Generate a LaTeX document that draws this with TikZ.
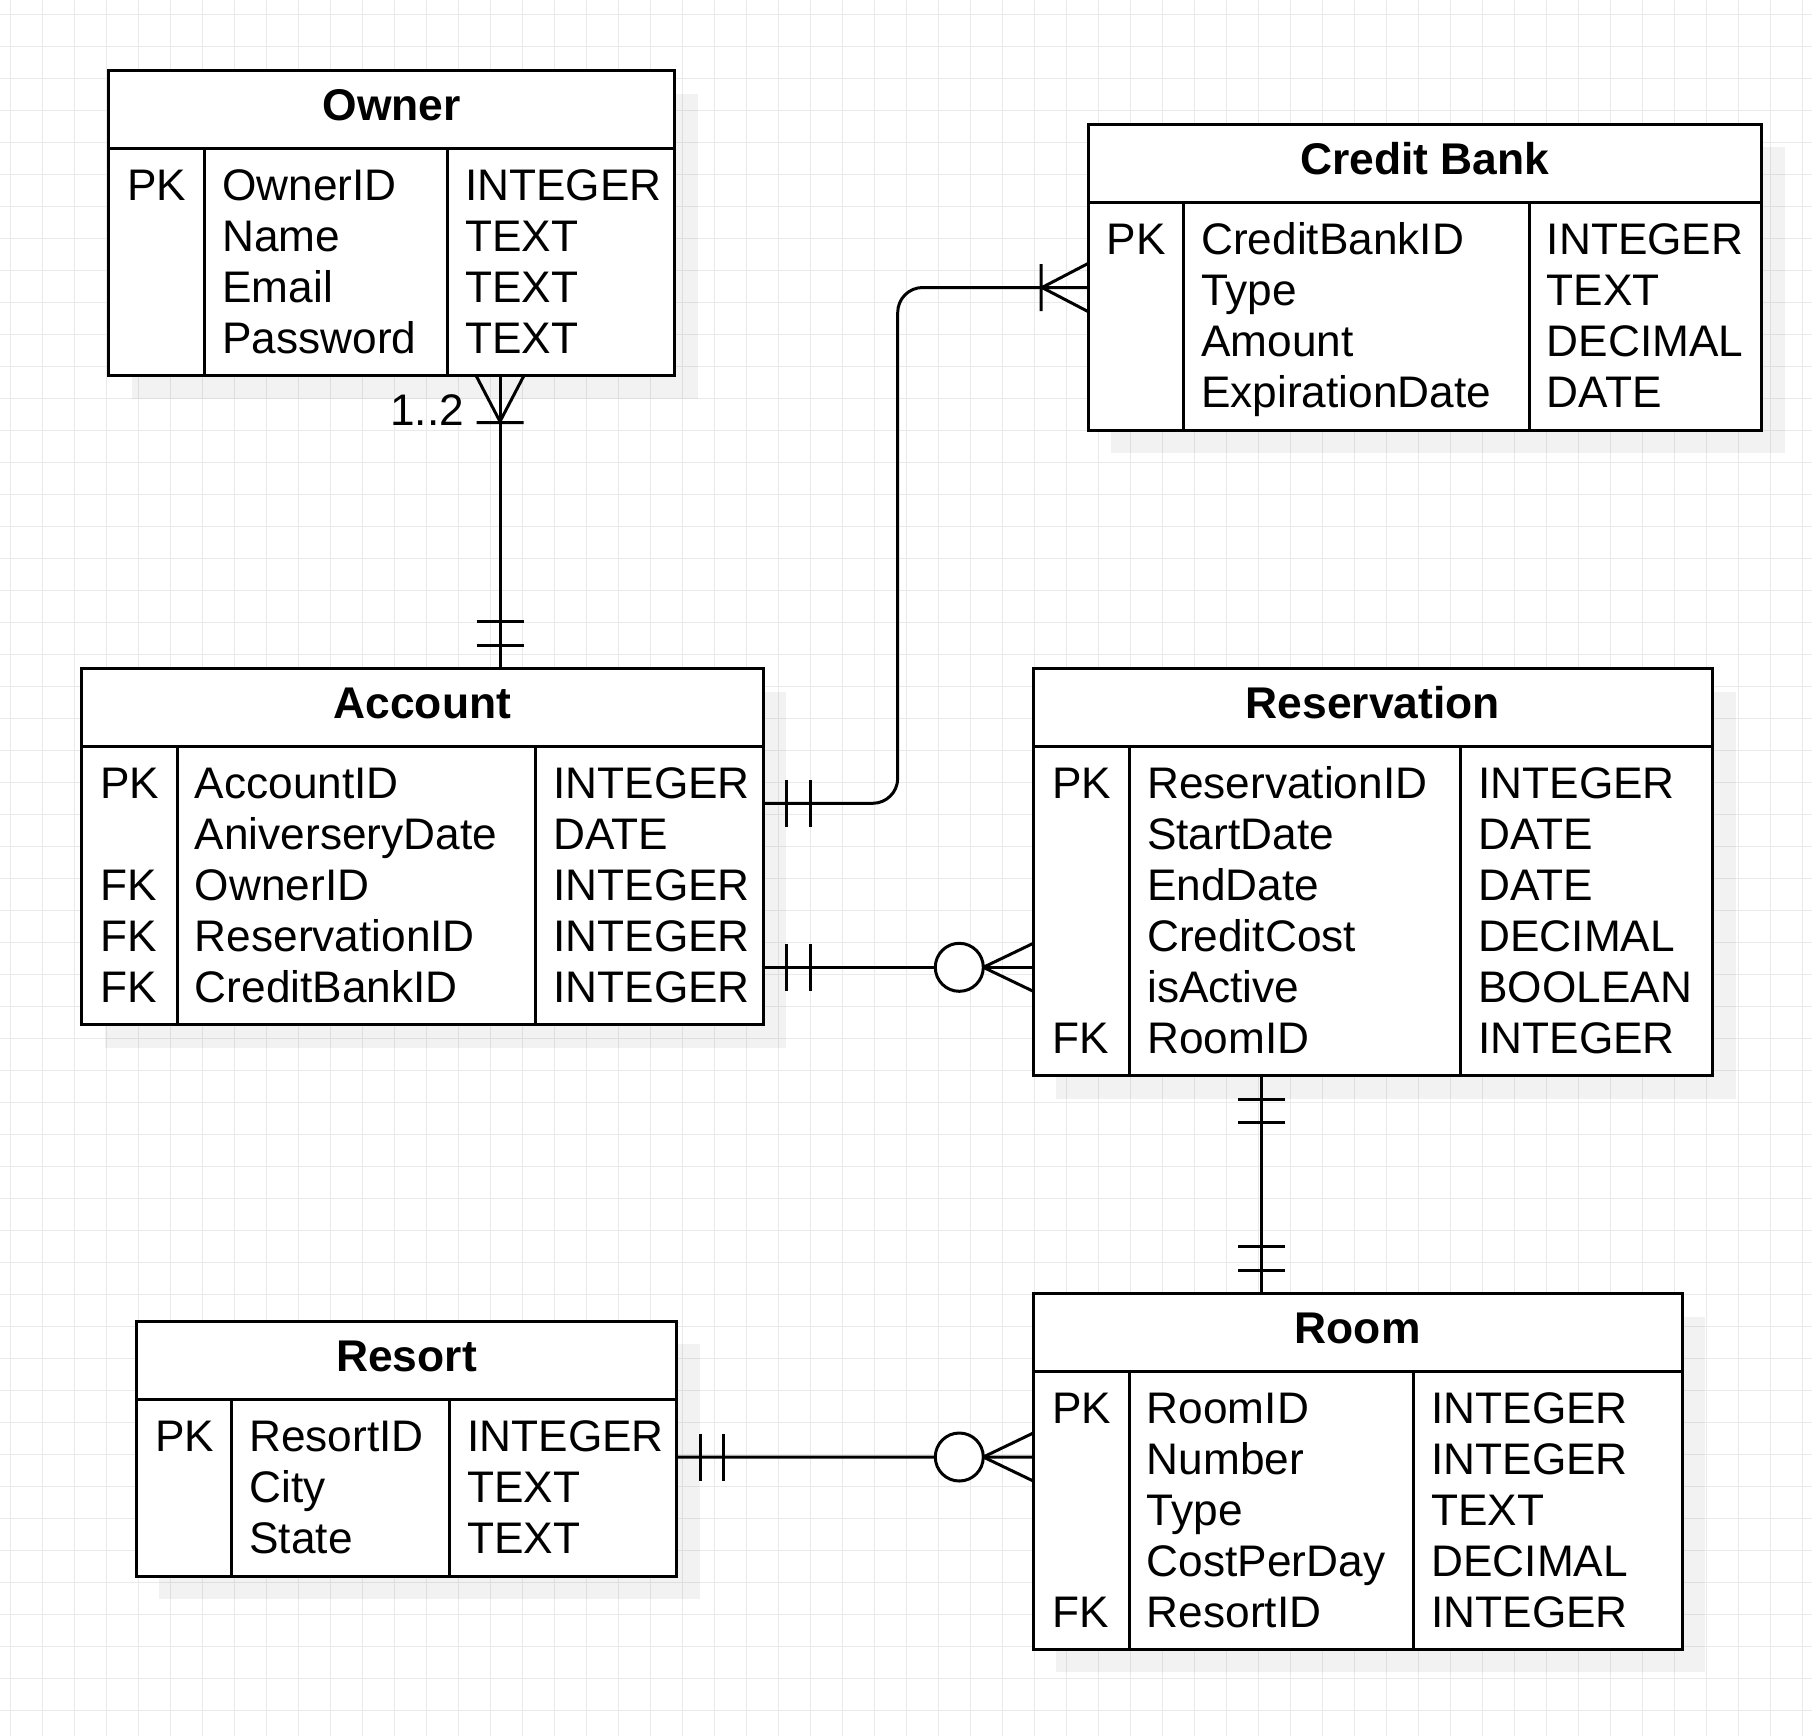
\documentclass[tikz,border=0pt]{standalone}
\usepackage{fontspec}
\setmainfont{Liberation Sans}
\usetikzlibrary{calc}
\definecolor{gridgray}{RGB}{234,234,234}
% one table: name, left, top, right, bottom, key/name divider, name/type divider, title, rows
\newcommand\ertable[9]{%
  \pgfmathsetmacro\tblw{(#4-#2)/2}%
  \pgfmathsetmacro\tblh{(#5-#3)/2}%
  \fill[shadowfill] (#2+23,#3+23) rectangle (#4+23,#5+23);
  \node[tablebox, minimum width=\tblw pt, minimum height=\tblh pt] (#1) at (#2,#3) {};
  \draw[rule] (#2,#3+78) -- (#4,#3+78);
  \draw[rule] (#6,#3+78) -- (#6,#5);
  \draw[rule] (#7,#3+78) -- (#7,#5);
  \node[titletext] (#1-title) at ({(#2+#4)/2},#3+50) {#8};
  \foreach \k/\f/\t [count=\i] in {#9} {
    \node[celltext] (#1-key\i) at (#2+18.5,#3+79+51*\i) {\k};
    \node[celltext] (#1-field\i) at (#6+17.5,#3+79+51*\i) {\f};
    \node[celltext] (#1-type\i) at (#7+17.5,#3+79+51*\i) {\t};
  }%
}
\begin{document}
\begin{tikzpicture}[x=0.5pt,y=-0.5pt,
  gridline/.style={draw=gridgray, line width=0.6pt},
  shadowfill/.style={fill=black, fill opacity=0.05},
  tablebox/.style={draw, fill=white, line width=1.5pt, inner sep=0pt, outer sep=0pt, anchor=north west},
  rule/.style={line width=1.5pt},
  titletext/.style={anchor=base, inner sep=0pt, font=\fontsize{22.2}{25.5}\selectfont\bfseries},
  celltext/.style={anchor=base west, inner sep=0pt, font=\fontsize{22.1}{25.5}\selectfont},
  conn/.style={line width=1.5pt},
  % cardinality marks, drawn with +x pointing away from the table
  mandone/.pic={\draw[conn] (23.5,-23.5) -- (23.5,23.5) (47,-23.5) -- (47,23.5);},
  onemany/.pic={\draw[conn] (0,-24) -- (46,0) -- (0,24) (47,-23.5) -- (47,23.5);},
  zeromany/.pic={\draw[conn] (0,-24) -- (50,0) -- (0,24);
                 \draw[conn, fill=white] (74,0) circle[radius=24];},
]
% page and grid
\fill[white] (0,0) rectangle (1812,1736);
\useasboundingbox (0,0) rectangle (1812,1736);
\foreach \gx in {0,...,56} \draw[gridline] ({10.7+32*\gx},0) -- ({10.7+32*\gx},1736);
\foreach \gy in {0,...,53} \draw[gridline] (0,{14.3+32*\gy}) -- (1812,{14.3+32*\gy});

% tables
\ertable{owner}{108.5}{70.5}{674.8}{375.5}{204.6}{447.2}{Owner}
  {PK/OwnerID/INTEGER, /Name/TEXT, /Email/TEXT, /Password/TEXT}
\ertable{creditbank}{1088}{124}{1761.5}{430.3}{1183.4}{1529}{Credit Bank}
  {PK/CreditBankID/INTEGER, /Type/TEXT, /Amount/DECIMAL, /ExpirationDate/DATE}
\ertable{account}{81.5}{668.5}{763}{1024.5}{177}{535.5}{Account}
  {PK/AccountID/INTEGER, /AniverseryDate/DATE, FK/OwnerID/INTEGER, FK/ReservationID/INTEGER, FK/CreditBankID/INTEGER}
\ertable{reservation}{1033.3}{668.5}{1712.5}{1075.7}{1129.3}{1460.5}{Reservation}
  {PK/ReservationID/INTEGER, /StartDate/DATE, /EndDate/DATE, /CreditCost/DECIMAL, /isActive/BOOLEAN, FK/RoomID/INTEGER}
\ertable{resort}{136.3}{1321.3}{676.7}{1576}{231.5}{449.5}{Resort}
  {PK/ResortID/INTEGER, /City/TEXT, /State/TEXT}
\ertable{room}{1033.3}{1293.5}{1682}{1649.3}{1129}{1413.5}{Room}
  {PK/RoomID/INTEGER, /Number/INTEGER, /Type/TEXT, /CostPerDay/DECIMAL, FK/ResortID/INTEGER}

% Owner -- Account
\draw[conn] ($(owner.south west)+(391.5,0)$) coordinate (oa1) -- ($(account.north west)+(418.5,0)$) coordinate (oa2);
\pic[rotate=-90] at (oa1) {onemany};
\pic[rotate=90] at (oa2) {mandone};
\node[celltext, anchor=base east] (oa-label) at ($(oa1)+(-35.5,50)$) {1..2};

% Account -- Credit Bank
\coordinate (ac1) at ($(account.north east)+(0,134.8)$);
\coordinate (ac2) at ($(creditbank.north west)+(0,163.5)$);
\draw[conn, rounded corners=12.5pt] (ac1) -| ($(ac2)+(-190.3,0)$) -- (ac2);
\pic at (ac1) {mandone};
\pic[rotate=180] at (ac2) {onemany};

% Account -- Reservation
\draw[conn] ($(account.north east)+(0,298.8)$) coordinate (ar1) -- ($(reservation.north west)+(0,298.8)$) coordinate (ar2);
\pic at (ar1) {mandone};
\pic[rotate=180] at (ar2) {zeromany};

% Reservation -- Room
\draw[conn] ($(reservation.south west)+(228.5,0)$) coordinate (rr1) -- ($(room.north west)+(228.5,0)$) coordinate (rr2);
\pic[rotate=-90] at (rr1) {mandone};
\pic[rotate=90] at (rr2) {mandone};

% Resort -- Room
\draw[conn] ($(resort.north east)+(0,135.7)$) coordinate (rs1) -- ($(room.north west)+(0,163.5)$) coordinate (rs2);
\pic at (rs1) {mandone};
\pic[rotate=180] at (rs2) {zeromany};
\end{tikzpicture}
\end{document}
